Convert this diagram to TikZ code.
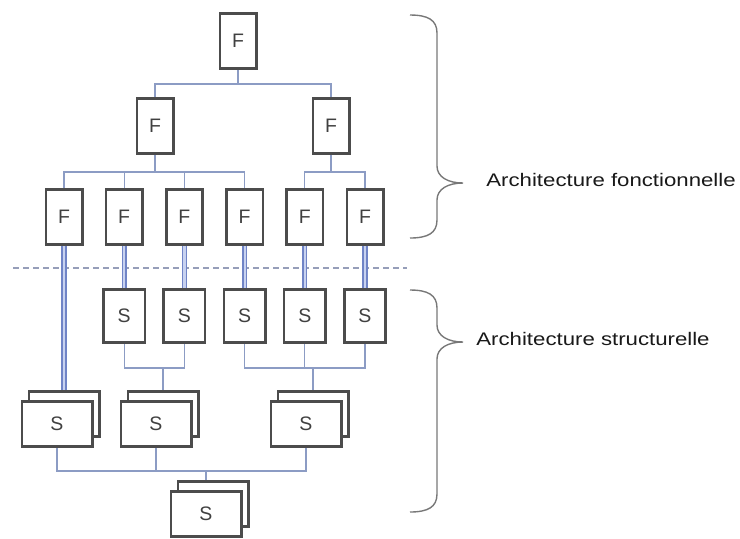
\documentclass[tikz,border=0pt]{standalone}
\usepackage{fontspec}
\setmainfont{Liberation Sans}
\newfontfamily\archfont[FakeStretch=1.22]{Liberation Sans}
\usetikzlibrary{positioning,calc,shadows}

\definecolor{linkblue}{RGB}{140,156,196}
\definecolor{pairblue}{RGB}{112,132,198}
\definecolor{pairfill}{RGB}{200,210,240}
\definecolor{cutgray}{RGB}{150,158,185}
\definecolor{bracegray}{RGB}{120,120,120}

\begin{document}
\begin{tikzpicture}[
			x=0.5pt, y=-0.5pt,
			node distance=10.6pt,
			box/.style={
					draw=black!70,
					fill=white,
					line width=1.3pt,
					inner sep=0pt,
					text=black!75,
					font=\fontsize{9.75}{11}\selectfont
				},
			fbox/.style={box, minimum width=18.2pt, minimum height=27.7pt},
			sbox/.style={box, minimum width=20.7pt, minimum height=26.7pt},
			stackbox/.style={box,
					minimum width=35.2pt,
					minimum height=22.7pt,
					copy shadow={shadow xshift=3.5pt, shadow yshift=5pt,
							draw=black!70, fill=white, line width=1.3pt}
				},
			link/.style={draw=linkblue, line width=0.6pt},
			pair/.style={draw=pairblue, double=pairfill, line width=0.75pt, double distance=1.1pt},
			cutline/.style={draw=cutgray, line width=0.6pt, dash pattern=on 3pt off 2pt},
			bracel/.style={draw=bracegray, line width=0.7pt},
			archlabel/.style={anchor=west, inner sep=0pt, text=black!90,
					font=\archfont\fontsize{9.1}{11}\selectfont}
		]

		\useasboundingbox (0,0) rectangle (740,538);

		% functional tree
		\node[fbox] (ftop) at (238,41) {F};
		\node[fbox] (fleft) at (155,126) {F};
		\node[fbox] (fright) at (331,126) {F};

		\node[fbox] (f1) at (64,217) {F};
		\node[fbox] (f2) [right=of f1] {F};
		\node[fbox] (f3) [right=of f2] {F};
		\node[fbox] (f4) [right=of f3] {F};
		\node[fbox] (f5) [right=of f4] {F};
		\node[fbox] (f6) [right=of f5] {F};

		% structural tree
		\node[sbox] (s1) [below=21pt of f2] {S};
		\node[sbox] (s2) [below=21pt of f3] {S};
		\node[sbox] (s3) [below=21pt of f4] {S};
		\node[sbox] (s4) [below=21pt of f5] {S};
		\node[sbox] (s5) [below=21pt of f6] {S};

		\node[stackbox] (st1) at (57,424) {S};
		\node[stackbox] (st2) at (156,424) {S};
		\node[stackbox] (st3) at (306,424) {S};
		\node[stackbox] (sbase) at (206,514) {S};

		\coordinate (busA) at ($(ftop.south)+(0,-7pt)$);
		\coordinate (busL) at ($(fleft.south)+(0,-8.5pt)$);
		\coordinate (busR) at ($(fright.south)+(0,-8.5pt)$);
		\coordinate (st1top) at ($(st1.north)+(3.5pt,5pt)$);
		\coordinate (st2top) at ($(st2.north)+(3.5pt,5pt)$);
		\coordinate (st3top) at ($(st3.north)+(3.5pt,5pt)$);
		\coordinate (sbasetop) at ($(sbase.north)+(0,5pt)$);
		\coordinate (busS12) at ($(st2top |- s1.south)+(0,-12pt)$);
		\coordinate (busS345) at ($(st3top |- s3.south)+(0,-12pt)$);
		\coordinate (busBase) at ($(sbase |- st2.south)+(0,-11.5pt)$);

		\draw[cutline] (13,268) -- (407,268);

		\draw[link] (ftop) -- (busA);
		\draw[link] (fleft) |- (busA) -| (fright);
		\draw[link] (fleft) -- (busL);
		\draw[link] (f1) |- (busL) -| (f4);
		\foreach \n in {f2,f3} \draw[link] (\n) -- (\n |- busL);
		\draw[link] (fright) -- (busR);
		\draw[link] (f5) |- (busR) -| (f6);

		\foreach \f/\s in {f2/s1,f3/s2,f4/s3,f5/s4,f6/s5} \draw[pair] (\f) -- (\s);
		\draw[pair] (f1) -- (st1top);

		\draw[link] (s1) |- (busS12) -| (s2);
		\draw[link] (busS12) -- (st2top);
		\draw[link] (s3) |- (busS345) -| (s5);
		\draw[link] (s4) -- (s4 |- busS345);
		\draw[link] (busS345) -- (st3top);

		\draw[link] (st1) |- (busBase) -| (st3);
		\draw[link] (st2) -- (st2 |- busBase);
		\draw[link] (busBase) -- (sbasetop);

		% braces
		\draw[bracel] (410,15) .. controls (428,15) and (437,20) .. (437,33)
		-- (437,166) .. controls (437,177) and (448,183) .. (463,183)
		.. controls (448,183) and (437,189) .. (437,200)
		-- (437,220) .. controls (437,233) and (428,238) .. (410,238);
		\draw[bracel] (410,290) .. controls (428,290) and (437,295) .. (437,308)
		-- (437,325) .. controls (437,336) and (448,342) .. (463,342)
		.. controls (448,342) and (437,348) .. (437,359)
		-- (437,494) .. controls (437,507) and (428,512) .. (410,512);

		\node[archlabel] (fonc) at (486,180) {Architecture fonctionnelle};
		\node[archlabel] (struct) at (476,339) {Architecture structurelle};

	\end{tikzpicture}
\end{document}
